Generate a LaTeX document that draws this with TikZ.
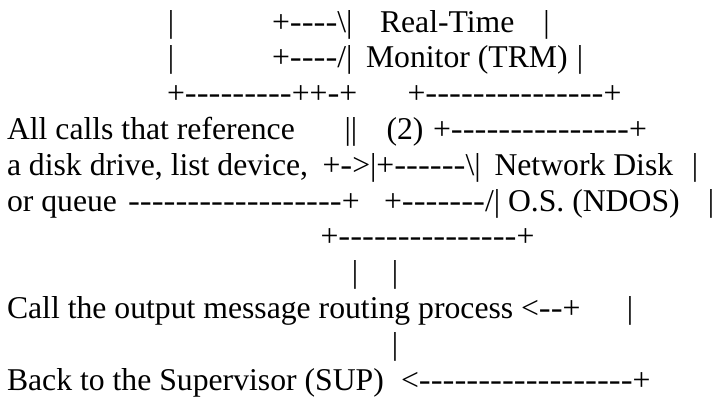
\documentclass[tikz,border=0pt]{standalone}
\usepackage{fontspec}
\setmainfont{Liberation Serif}
\newcommand\dd{\scalebox{1.125}[1]{-}}
\newcommand\dfive{\dd\dd\dd\dd\dd}
\newcommand\boxline{+\dfive\dfive\dfive+}
\begin{document}
\begin{tikzpicture}[x=1pt,y=-1pt,
  txt/.style={anchor=base west,inner sep=0pt,outer sep=0pt,font=\fontsize{31.7pt}{36pt}\selectfont},
  bar/.style={anchor=base,inner sep=0pt,outer sep=0pt,font=\fontsize{31.7pt}{36pt}\selectfont}]
\useasboundingbox (0,0) rectangle (718,402);
% line 1
\node[bar] (a1) at (171,32) {|};
\node[txt] (a2) at (272,32) {+\dd\dd\dd\dd\textbackslash|};
\node[txt] (a3) at (380,32) {Real-Time};
\node[bar] (a4) at (546.5,32) {|};
% line 2
\node[bar] (b1) at (171,67.8) {|};
\node[txt] (b2) at (272,67.8) {+\dd\dd\dd\dd/|};
\node[txt] (b3) at (366,67.8) {Monitor (TRM)};
\node[bar] (b4) at (580,67.8) {|};
% line 3
\node[txt] (c1) at (167,103.6) {+\dfive\dd\dd\dd\dd++\dd+};
\node[txt] (c2) at (407.5,103.6) {\boxline};
% line 4
\node[txt] (d1) at (7,139.4) {All calls that reference};
\node[bar] (d2) at (351,139.4) {||};
\node[txt] (d3) at (386.5,139.4) {(2)};
\node[txt] (d4) at (433,139.4) {\boxline};
% line 5
\node[txt] (e1) at (7,175.2) {a disk drive, list device,};
\node[txt] (e2) at (322.5,175.2) {+\dd>|+\dfive\dd\textbackslash|};
\node[txt] (e3) at (494.5,175.2) {Network Disk};
\node[bar] (e4) at (695,175.2) {|};
% line 6
\node[txt] (f1) at (7,211) {or queue};
\node[txt] (f2) at (128,211) {\dfive\dfive\dfive\dd\dd\dd+};
\node[txt] (f3) at (384,211) {+\dfive\dd\dd/|};
\node[txt] (f4) at (508,211) {O.S. (NDOS)};
\node[bar] (f5) at (711,211) {|};
% line 7
\node[txt] (g1) at (320.5,246.8) {\boxline};
% line 8
\node[bar] (h1) at (355,282.6) {|};
\node[bar] (h2) at (395,282.6) {|};
% line 9
\node[txt] (i1) at (7,318.4) {Call the output message routing process};
\node[txt] (i2) at (521,318.4) {<\dd\dd+};
\node[bar] (i3) at (630,318.4) {|};
% line 10
\node[bar] (j1) at (395,354.2) {|};
% line 11
\node[txt] (k1) at (7,390) {Back to the Supervisor (SUP)};
\node[txt] (k2) at (401,390) {<\dfive\dfive\dfive\dd\dd\dd+};
\end{tikzpicture}
\end{document}
